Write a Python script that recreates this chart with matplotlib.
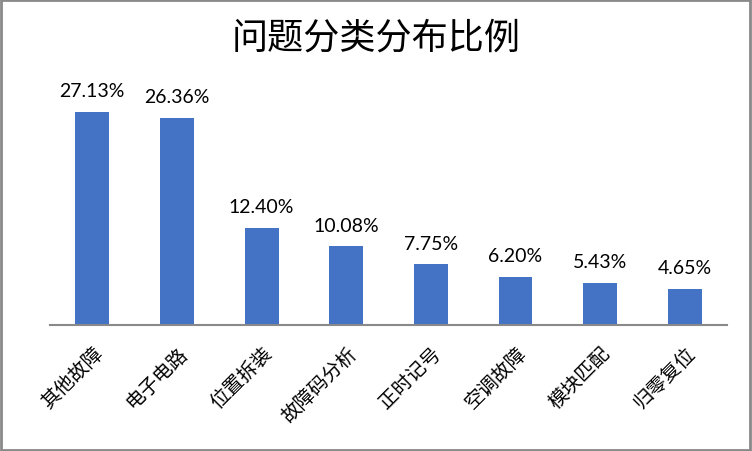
import matplotlib
matplotlib.use('Agg')
import matplotlib.pyplot as plt
from matplotlib.patches import Rectangle

plt.rcParams['font.family'] = ['Noto Sans CJK SC', 'DejaVu Sans']

categories = ['其他故障', '电子电路', '位置拆装', '故障码分析', '正时记号', '空调故障', '模块匹配', '归零复位']
percents = [27.13, 26.36, 12.40, 10.08, 7.75, 6.20, 5.43, 4.65]

fig = plt.figure(figsize=(7.52, 4.52), dpi=100)
ax = fig.add_axes([0.0665, 0.2777, 0.9003, 0.5223])

x = range(len(categories))
ax.bar(x, percents, width=0.4, color='#4472C4')

for i, v in enumerate(percents):
    ax.text(i, v + 1.6, '%.2f%%' % v, ha='center', va='bottom',
            fontsize=14, family='Lato', color='#000000')

ax.set_xlim(-0.5, len(categories) - 0.5)
ax.set_ylim(0, 30)
ax.set_xticks(list(x))
ax.set_xticklabels(categories, rotation=45, ha='right', rotation_mode='anchor',
                   fontsize=14)
ax.tick_params(axis='x', length=0, pad=12)
ax.set_yticks([])
for s in ['top', 'left', 'right']:
    ax.spines[s].set_visible(False)
ax.spines['bottom'].set_color('#898989')
ax.spines['bottom'].set_linewidth(1.5)

fig.text(0.5, 0.915, '问题分类分布比例', ha='center', va='center', fontsize=26,
         fontweight='medium')

# border round the whole picture
fig.patches.append(Rectangle((0.001, 0.002), 0.997, 0.995, transform=fig.transFigure,
                             fill=False, edgecolor='#898989', linewidth=2))

plt.savefig('out.png')
